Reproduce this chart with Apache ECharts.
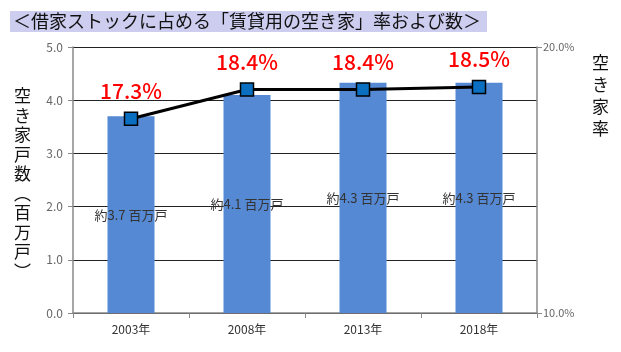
<!DOCTYPE html>
<html>
<head>
<meta charset="utf-8">
<script src="https://cdn.jsdelivr.net/npm/echarts@6/dist/echarts.min.js"></script>
<style>
  html, body { margin: 0; padding: 0; background: #fff; }
  #chart { width: 621px; height: 352px; }
</style>
</head>
<body>
<div id="chart"></div>
<script>
var years = ['2003年', '2008年', '2013年', '2018年'];
var vacantHomes = [3.7, 4.1, 4.33, 4.33];      // 百万戸
var homeLabels = ['約3.7 百万戸', '約4.1 百万戸', '約4.3 百万戸', '約4.3 百万戸'];
var vacancyRate = [17.3, 18.4, 18.4, 18.5];    // %

var FONT = '"Noto Sans CJK JP", sans-serif';

var myChart = echarts.init(document.getElementById('chart'));

var option = {
    animation: false,
    textStyle: { fontFamily: FONT },
    title: {
        text: '＜借家ストックに占める「賃貸用の空き家」率および数＞',
        left: 10,
        top: 11,
        padding: [0, 6, 0, 3],
        backgroundColor: '#cdcdf0',
        textStyle: {
            fontFamily: FONT,
            fontSize: 18,
            fontWeight: 'normal',
            color: '#111',
            lineHeight: 21
        }
    },
    grid: { left: 73, right: 84, top: 47, bottom: 39 },
    xAxis: {
        type: 'category',
        data: years,
        axisLine: { lineStyle: { color: '#888', width: 1.5 } },
        axisTick: { show: true, lineStyle: { color: '#888' } },
        axisLabel: { color: '#333', fontSize: 12, margin: 10 }
    },
    yAxis: [
        {
            type: 'value',
            min: 0, max: 5, interval: 1,
            axisLine: { show: true, lineStyle: { color: '#888', width: 1.5 } },
            axisTick: { show: true, lineStyle: { color: '#888' } },
            axisLabel: {
                color: '#666', fontSize: 12, margin: 10,
                formatter: function (v) { return v.toFixed(1); }
            },
            splitLine: { lineStyle: { color: '#222', width: 1.2 } }
        },
        {
            type: 'value',
            min: 10, max: 20, interval: 10,
            axisLine: { show: true, lineStyle: { color: '#888', width: 1.5 } },
            axisTick: { show: true, lineStyle: { color: '#888' } },
            axisLabel: {
                color: '#666', fontSize: 11, margin: 6,
                formatter: function (v) { return v.toFixed(1) + '%'; }
            },
            splitLine: { show: false }
        }
    ],
    graphic: [
        {
            type: 'text', left: 14, top: 86,
            style: {
                text: '空\nき\n家\n戸\n数\n︵\n百\n万\n戸\n︶',
                fontFamily: FONT, fontSize: 17, lineHeight: 19.5, fill: '#111'
            }
        },
        {
            type: 'text', left: 592, top: 52,
            style: {
                text: '空\nき\n家\n率',
                fontFamily: FONT, fontSize: 17, lineHeight: 22, fill: '#111'
            }
        }
    ],
    series: [
        {
            name: '空き家戸数',
            type: 'bar',
            yAxisIndex: 0,
            barWidth: 47,
            itemStyle: { color: '#5589d3' },
            label: {
                show: true,
                position: 'inside',
                color: '#333',
                fontSize: 13,
                formatter: function (p) { return homeLabels[p.dataIndex]; }
            },
            data: vacantHomes
        },
        {
            name: '空き家率',
            type: 'line',
            yAxisIndex: 1,
            symbol: 'rect',
            symbolSize: 13,
            lineStyle: { color: '#000', width: 3 },
            itemStyle: { color: '#0a6fc0', borderColor: '#000', borderWidth: 1.5 },
            label: {
                show: true,
                position: 'top',
                distance: 10,
                color: '#ff0000',
                fontSize: 21,
                fontWeight: 500,
                formatter: function (p) { return p.value.toFixed(1) + '%'; }
            },
            data: vacancyRate
        }
    ]
};

myChart.setOption(option);
</script>
</body>
</html>
